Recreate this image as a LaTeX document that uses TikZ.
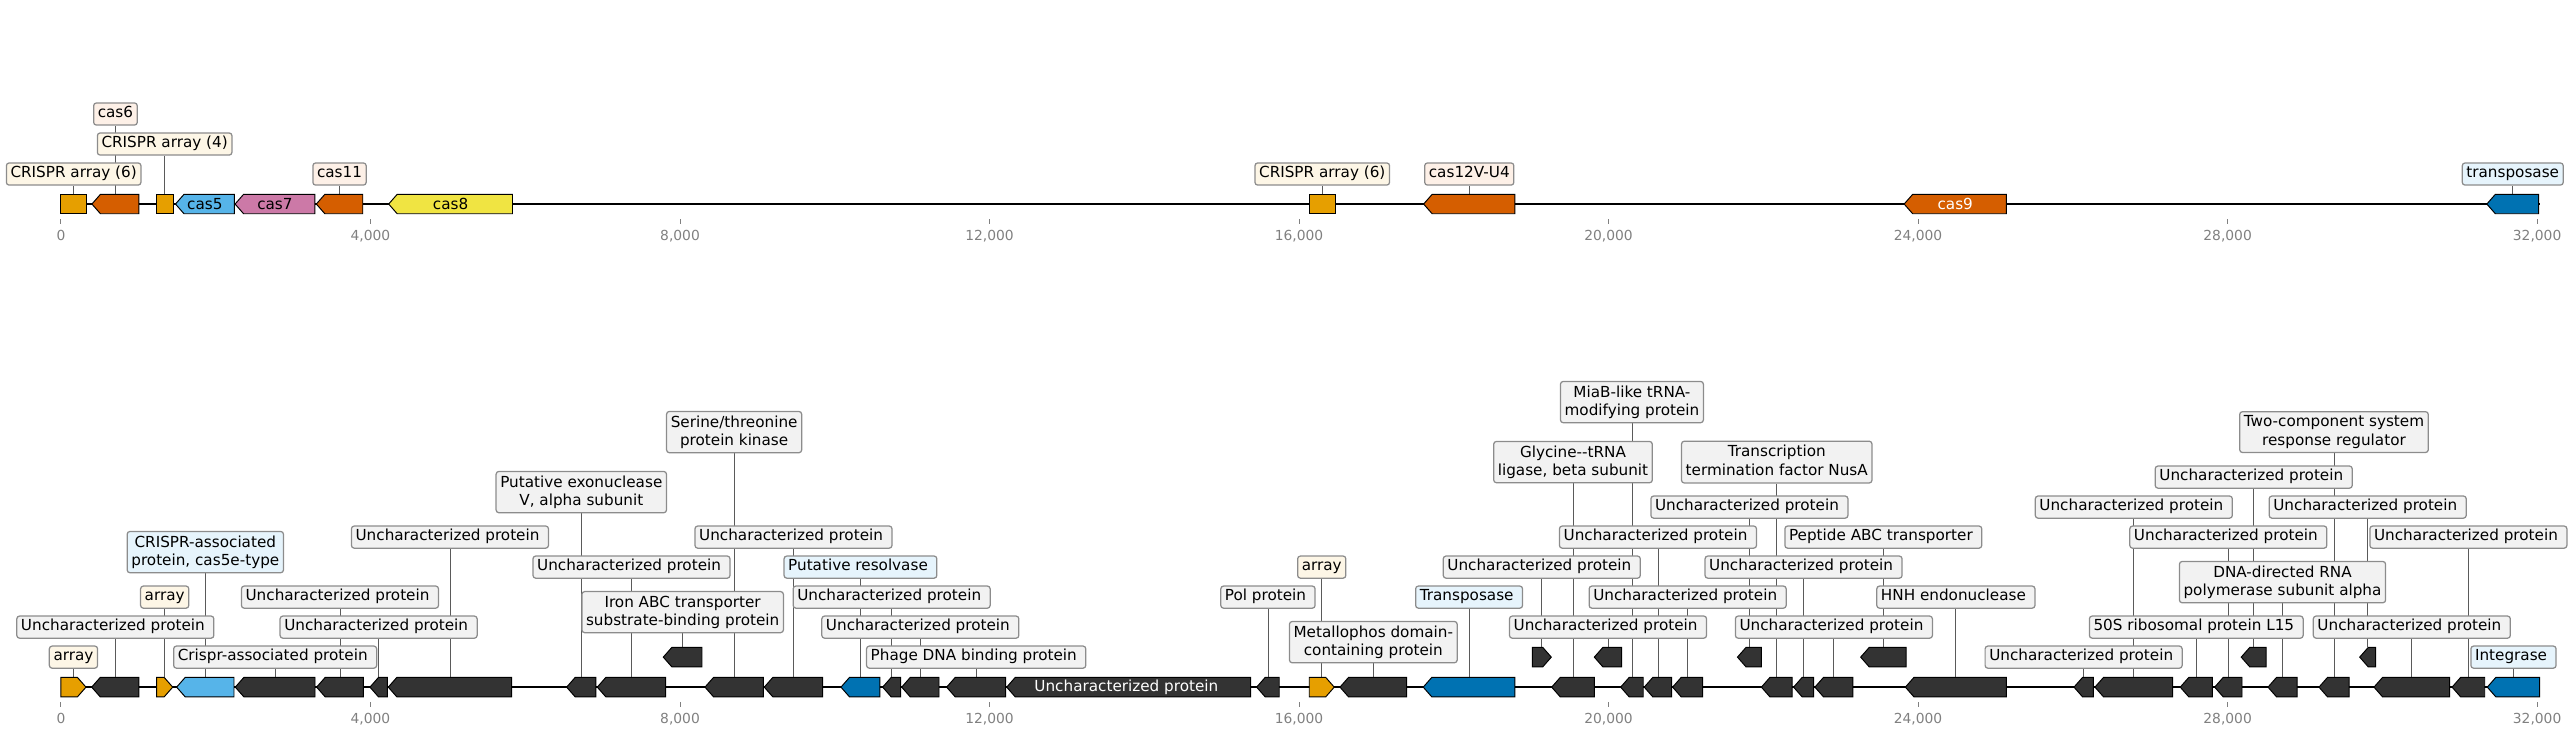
\documentclass[tikz,border=0pt]{standalone}
\usepackage{fontspec}
\setmainfont{DejaVu Sans}
\usepackage{tikz}
\definecolor{crispr}{HTML}{E69F00}
\definecolor{casred}{HTML}{D55E00}
\definecolor{casblue}{HTML}{56B4E9}
\definecolor{caspink}{HTML}{CC79A7}
\definecolor{casyel}{HTML}{F0E442}
\definecolor{mobile}{HTML}{0072B2}
\definecolor{other}{HTML}{333333}
\definecolor{crisprbg}{HTML}{FDF6E6}
\definecolor{casredbg}{HTML}{FDF0E7}
\definecolor{mobilebg}{HTML}{E6F4FC}
\definecolor{otherbg}{HTML}{F2F2F2}
\definecolor{edge}{HTML}{8C8C8C}
\definecolor{muted}{HTML}{808080}
\definecolor{link}{HTML}{5A5A5A}
\pgfdeclarelayer{back}
\pgfsetlayers{back,main}
\tikzset{
  backbone/.style={draw=black, line width=1.5pt},
  gene/.style={draw=black, line width=0.7pt, line join=miter},
  box/.style={draw=edge, line width=0.9pt, rounded corners=2pt, inner sep=3pt, text=black, font=\fontsize{11}{13.2}\selectfont},
  lab/.style={box, text height=.76em, text depth=.24em},
  plab/.style={lab, fill=otherbg, execute at end node={\kern.32em}},
  mlab/.style={plab, fill=mobilebg},
  lab2/.style={box, align=center, fill=otherbg},
  intext/.style={inner sep=0pt, font=\fontsize{11}{13.2}\selectfont},
  link/.style={draw=link, line width=0.6pt},
  tickmark/.style={draw=muted, line width=0.7pt},
  ticklab/.style={text=muted, inner sep=0pt, font=\fontsize{10}{12}\selectfont},
}
% gene shapes: name, start, end (kbp), y, colour
\newcommand{\genel}[5]{%
  \draw[gene, fill=#5] (#2,#4) -- (#2+0.11,#4-9.7) -- (#3,#4-9.7) -- (#3,#4+9.7) -- (#2+0.11,#4+9.7) -- cycle;
  \coordinate (#1) at ({(#2+#3)/2},#4-9.7);}
\newcommand{\gener}[5]{%
  \draw[gene, fill=#5] (#2,#4-9.7) -- (#3-0.11,#4-9.7) -- (#3,#4) -- (#3-0.11,#4+9.7) -- (#2,#4+9.7) -- cycle;
  \coordinate (#1) at ({(#2+#3)/2},#4-9.7);}
\newcommand{\genen}[5]{%
  \draw[gene, fill=#5] (#2,#4-9.7) rectangle (#3,#4+9.7);
  \coordinate (#1) at ({(#2+#3)/2},#4-9.7);}
\newcommand{\dpt}{\rule[-.24em]{0pt}{.24em}}

\begin{document}
\begin{tikzpicture}[x=1.96545cm, y=-0.0254cm]
\useasboundingbox (-0.788,0) rectangle (32.464,736);

% axis ticks of both tracks
\foreach \ly in {204,687}
  \foreach \k/\t in {0/0, 4/{4,000}, 8/{8,000}, 12/{12,000}, 16/{16,000}, 20/{20,000}, 24/{24,000}, 28/{28,000}, 32/{32,000}} {
    \draw[tickmark] (\k,\ly+15) -- (\k,\ly+20);
    \node[ticklab, anchor=base] (tk-\ly-\k) at (\k,\ly+36) {\t};
  }

% ---- top track: cas genes ----
\draw[backbone] (0,204) -- (32.033,204);
\genen{t1}{0}{0.328}{204}{crispr}
\genel{t2}{0.40}{1.008}{204}{casred}
\genen{t3}{1.23}{1.45}{204}{crispr}
\genel{t4}{1.48}{2.24}{204}{casblue}
\genel{t5}{2.25}{3.28}{204}{caspink}
\genel{t6}{3.30}{3.90}{204}{casred}
\genel{t7}{4.235}{5.835}{204}{casyel}
\genen{t8}{16.13}{16.47}{204}{crispr}
\genel{t9}{17.61}{18.79}{204}{casred}
\genel{t10}{23.82}{25.14}{204}{casred}
\genel{t11}{31.35}{32.02}{204}{mobile}
\node[intext] (n-cas5) at (1.86,204) {cas5};
\node[intext] (n-cas7) at (2.765,204) {cas7};
\node[intext] (n-cas8) at (5.035,204) {cas8};
\node[intext, text=white] (n-cas9) at (24.48,204) {cas9};

\node[lab, fill=crisprbg] (lt1) at (t1 |- 0,174) {CRISPR array (6)};
\node[lab, fill=casredbg] (lt2) at (t2 |- 0,114) {cas6};
\node[lab, fill=crisprbg] (lt3) at (t3 |- 0,144) {CRISPR array (4)};
\node[lab, fill=casredbg] (lt6) at (t6 |- 0,174) {cas11};
\node[lab, fill=crisprbg] (lt8) at (t8 |- 0,174) {CRISPR array (6)};
\node[lab, fill=casredbg] (lt9) at (t9 |- 0,174) {cas12V-U4};
\node[lab, fill=mobilebg] (lt11) at (t11 |- 0,174) {transposase};

% ---- bottom track: annotated proteins ----
\draw[backbone] (0,687) -- (32.033,687);
\gener{g1}{0}{0.323}{687}{crispr}
\gener{g3}{1.237}{1.444}{687}{crispr}
\gener{g20}{16.132}{16.455}{687}{crispr}
\genel{g4}{1.495}{2.236}{687}{casblue}
\genel{g14}{10.080}{10.584}{687}{mobile}
\genel{g22}{17.605}{18.790}{687}{mobile}
\genel{g45}{31.356}{32.033}{687}{mobile}
\foreach \n/\s/\e in {2/0.397/1.008, 5/2.253/3.283, 6/3.304/3.907, 7/3.993/4.217, 8/4.230/5.824,
    9/6.535/6.914, 10/6.931/7.815, 12/8.323/9.076, 13/9.089/9.844, 15/10.619/10.851,
    16/10.865/11.347, 17/11.446/12.209, 18/12.222/15.375, 19/15.452/15.744, 21/16.529/17.391,
    24/19.265/19.816, 26/20.156/20.448, 27/20.461/20.816, 28/20.828/21.216, 29/21.975/22.372,
    31/22.391/22.649, 32/22.667/23.157, 34/23.836/25.141, 35/26.015/26.264, 36/26.286/27.290,
    37/27.388/27.802, 38/27.833/28.186, 40/28.522/28.897, 41/29.181/29.569, 43/29.892/30.870,
    44/30.901/31.323}
  \genel{g\n}{\s}{\e}{687}{other};
\foreach \n/\s/\e in {11/7.784/8.284, 25/19.816/20.170, 30/21.666/21.975, 33/23.258/23.844,
    39/28.176/28.499, 42/29.707/29.914}
  \genel{g\n}{\s}{\e}{657}{other};
\gener{g23}{19.014}{19.260}{657}{other}
\node[intext, text=white] (n18) at (13.80,687) {Uncharacterized protein\kern.32em};

\foreach \g/\y in {2/627, 6/597, 7/627, 8/537, 10/567, 13/537, 15/597, 16/627, 23/567, 25/627,
    27/537, 28/597, 30/507, 31/567, 32/627, 35/657, 36/507, 38/537, 39/477, 42/507, 43/627, 44/537}
  \node[plab] (l\g) at (g\g |- 0,\y) {Uncharacterized protein};
\node[plab] (l5) at (g5 |- 0,657) {Crispr-associated protein};
\node[plab] (l17) at (g17 |- 0,657) {Phage DNA binding protein};
\node[plab] (l19) at (g19 |- 0,597) {Pol protein};
\node[plab] (l33) at (g33 |- 0,537) {Peptide ABC transporter};
\node[plab] (l34) at (g34 |- 0,597) {HNH endonuclease};
\node[plab] (l37) at (g37 |- 0,627) {50S ribosomal protein L15};
\node[mlab] (l14) at (g14 |- 0,567) {Putative resolvase};
\node[mlab] (l22) at (g22 |- 0,597) {Transposase};
\node[mlab] (l45) at (g45 |- 0,657) {Integrase};
\node[lab, fill=crisprbg] (l1) at (g1 |- 0,657) {array};
\node[lab, fill=crisprbg] (l3) at (g3 |- 0,597) {array};
\node[lab, fill=crisprbg] (l20) at (g20 |- 0,567) {array};
\node[lab2, fill=mobilebg] (l4) at (g4 |- 0,552) {CRISPR-associated\\protein, cas5e-type};
\node[lab2] (l9) at (g9 |- 0,492) {Putative exonuclease\\V, alpha subunit};
\node[lab2] (l11) at (g11 |- 0,612) {Iron ABC transporter\\substrate-binding protein};
\node[lab2] (l12) at (g12 |- 0,432) {Serine/threonine\\protein kinase};
\node[lab2] (l21) at (g21 |- 0,642) {Metallophos domain-\\containing protein};
\node[lab2] (l24) at (g24 |- 0,462) {Glycine-{}-tRNA\\ligase, beta subunit};
\node[lab2] (l26) at (g26 |- 0,402) {MiaB-like tRNA-\\modifying protein};
\node[lab2] (l29) at (g29 |- 0,462) {Transcription\\termination factor NusA\dpt};
\node[lab2] (l40) at (g40 |- 0,582) {DNA-directed RNA\\polymerase subunit alpha};
\node[lab2] (l41) at (g41 |- 0,432) {Two-component system\\response regulator};

% leader lines behind the label boxes
\begin{pgfonlayer}{back}
\foreach \g in {1,2,3,6,8,9,11}
  \draw[link] (t\g) -- (lt\g);
\foreach \g in {1,...,17,19,20,...,45}
  \draw[link] (g\g) -- (l\g);
\end{pgfonlayer}
\end{tikzpicture}
\end{document}
